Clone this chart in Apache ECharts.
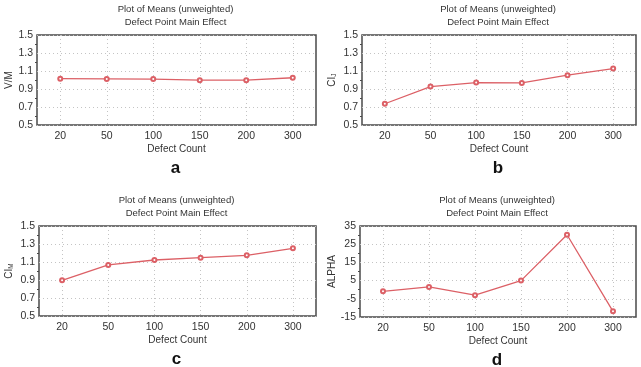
<!DOCTYPE html>
<html lang="en">
<head>
<meta charset="UTF-8">
<title>Plot of Means</title>
<script src="https://cdn.jsdelivr.net/npm/echarts@6/dist/echarts.min.js"></script>
<style>
  html, body { margin: 0; padding: 0; background: #fff; }
  #chart { width: 641px; height: 367px; }
</style>
</head>
<body>
<div id="chart"></div>
<script>
// category labels shared by all four panels
var defectCount = ['20', '50', '100', '150', '200', '300'];

// means
var vmMeans    = [1.015, 1.012, 1.010, 0.998, 0.998, 1.025];
var ciJMeans   = [0.736, 0.927, 0.971, 0.967, 1.054, 1.127];
var ciMMeans   = [0.896, 1.067, 1.122, 1.148, 1.174, 1.252];
var alphaMeans = [-0.9, 1.5, -3.0, 5.0, 30.2, -11.9];

var panelLetters = ['a', 'b', 'c', 'd'];
var yNames = ['V/M', '{m|CI}{s|J}', '{m|CI}{s|M}', 'ALPHA'];
var yRanges = [[0.5, 1.5, 0.2], [0.5, 1.5, 0.2], [0.5, 1.5, 0.2], [-15, 35, 10]];
var allMeans = [vmMeans, ciJMeans, ciMMeans, alphaMeans];

var font = 'Liberation Sans, Arial, sans-serif';
var lineColor = '#dc6066';

// panel boxes (left, top, width, height)
var boxes = [
  [37, 35, 279, 90],
  [362, 35, 274, 90],
  [39, 226, 277, 90],
  [360, 226, 276, 91]
];
var nameGaps = [23, 24, 24, 22];

var grids = [], xAxes = [], yAxes = [], series = [], titles = [];
boxes.forEach(function (b, i) {
  grids.push({
    left: b[0], top: b[1], width: b[2], height: b[3],
    show: true, borderColor: '#4a4a4a', borderWidth: 1.5, backgroundColor: 'transparent'
  });
  xAxes.push({
    type: 'category', gridIndex: i, data: defectCount, boundaryGap: true,
    name: 'Defect Count', nameLocation: 'middle', nameGap: 19,
    nameTextStyle: { fontFamily: font, fontSize: 10, color: '#333' },
    axisLine: { show: false },
    axisTick: { show: false, alignWithLabel: true },
    axisLabel: { fontFamily: font, fontSize: 10.5, color: '#333', margin: 6 },
    splitLine: { show: true, alignWithLabel: true, lineStyle: { color: '#c4c4c4', type: [1, 3], width: 1 } }
  });
  yAxes.push({
    type: 'value', gridIndex: i,
    min: yRanges[i][0], max: yRanges[i][1], interval: yRanges[i][2],
    name: yNames[i], nameLocation: 'middle', nameRotate: 90,
    nameGap: nameGaps[i],
    nameTextStyle: {
      fontFamily: font, fontSize: 10, color: '#333',
      rich: {
        m: { fontFamily: font, fontSize: 10, color: '#333' },
        s: { fontFamily: font, fontSize: 6.5, color: '#333', verticalAlign: 'bottom', padding: [4, 0, 0, 0] }
      }
    },
    axisLine: { show: false },
    axisTick: { show: false },
    minorTick: { show: true, splitNumber: 2, length: 2, lineStyle: { color: '#4a4a4a' } },
    axisLabel: {
      fontFamily: font, fontSize: 10.5, color: '#333', margin: 4,
      formatter: function (v) { return i === 3 ? String(v) : v.toFixed(1); }
    },
    splitLine: { show: true, lineStyle: { color: '#c4c4c4', type: [1, 3], width: 1 } }
  });
  series.push({
    type: 'line', xAxisIndex: i, yAxisIndex: i, data: allMeans[i],
    symbol: 'emptyCircle', symbolSize: 4,
    lineStyle: { color: lineColor, width: 1.3 },
    itemStyle: { color: lineColor, borderWidth: 1 },
    animation: false
  });
  var cx = b[0] + b[2] / 2 - 6;
  titles.push({
    text: 'Plot of Means (unweighted)\nDefect Point Main Effect',
    left: cx, top: b[1] - 37, textAlign: 'center',
    textStyle: { fontFamily: font, fontSize: 9.5, fontWeight: 'normal', color: '#333', lineHeight: 13 }
  });
  titles.push({
    text: panelLetters[i],
    left: cx, top: b[1] + b[3] + 30, textAlign: 'center',
    textStyle: { fontFamily: font, fontSize: 17, fontWeight: 'bold', color: '#111' }
  });
});

var chart = echarts.init(document.getElementById('chart'));
chart.setOption({
  animation: false,
  title: titles,
  grid: grids,
  xAxis: xAxes,
  yAxis: yAxes,
  series: series
});
</script>
</body>
</html>
